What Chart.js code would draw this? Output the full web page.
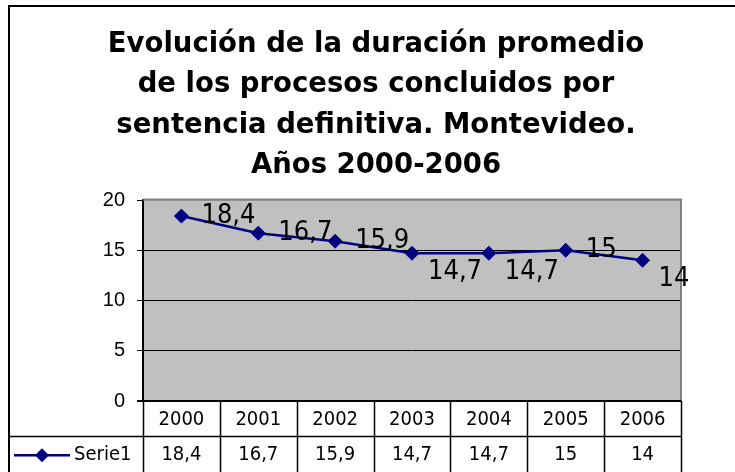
<!DOCTYPE html>
<html>
<head>
<meta charset="utf-8">
<script src="https://cdn.jsdelivr.net/npm/chart.js@4/dist/chart.umd.min.js"></script>
<style>
html,body{margin:0;padding:0;background:#fff;}
#wrap{width:735px;height:472px;position:relative;}
</style>
</head>
<body>
<div id="wrap"><canvas id="c" width="735" height="472"></canvas></div>
<script>
// ---- data ----
const TITLE_LINES = ['Evolución de la duración promedio', 'de los procesos concluidos por', 'sentencia definitiva. Montevideo.', 'Años 2000-2006'];
const YEARS = ['2000', '2001', '2002', '2003', '2004', '2005', '2006'];
const SERIE1 = [18.4, 16.7, 15.9, 14.7, 14.7, 15, 14];
const SERIES_NAME = 'Serie1';
const Y_TICKS = [0, 5, 10, 15, 20];
// label placement like the original (r = right, br = below-right)
const LABEL_ALIGN = ['r', 'r', 'r', 'br', 'br', 'r', 'br'];

const fmt = v => String(v).replace('.', ',');
const NAVY = '#000080';
const COND = "'DejaVu Sans Condensed', 'DejaVu Sans', sans-serif";

const deco = {
  id: 'deco',
  beforeDraw(chart) {
    const {ctx, chartArea: a} = chart;
    ctx.save();
    ctx.fillStyle = '#C0C0C0';
    ctx.fillRect(a.left, a.top, a.right - a.left, a.bottom - a.top);
    ctx.restore();
  },
  afterDatasetsDraw(chart) {
    const {ctx, chartArea: a} = chart;
    const meta = chart.getDatasetMeta(0);
    const x = chart.scales.x;
    ctx.save();
    // plot-area top/right border
    ctx.strokeStyle = '#808080';
    ctx.lineWidth = 2;
    ctx.beginPath();
    ctx.moveTo(a.left, a.top - 0.5);
    ctx.lineTo(a.right, a.top - 0.5);
    ctx.lineTo(a.right, a.bottom);
    ctx.stroke();
    // data labels
    ctx.fillStyle = '#000';
    ctx.font = "27px " + COND;
    ctx.textAlign = 'left';
    ctx.textBaseline = 'middle';
    meta.data.forEach((pt, i) => {
      const below = LABEL_ALIGN[i] === 'br';
      ctx.fillText(fmt(SERIE1[i]), pt.x + (below ? 16 : 20), pt.y + (below ? 19 : 0));
    });
    // title
    ctx.font = "bold 27.5px 'DejaVu Sans', sans-serif";
    ctx.textAlign = 'center';
    ctx.textBaseline = 'alphabetic';
    TITLE_LINES.forEach((t, i) => ctx.fillText(t, 376, 52 + i * 40.3));
    // data table
    const top = a.bottom, mid = a.bottom + 35.5, bot = 472;
    const colW = (a.right - a.left) / YEARS.length;
    ctx.strokeStyle = '#000';
    ctx.lineWidth = 1.5;
    ctx.beginPath();
    ctx.moveTo(9, mid); ctx.lineTo(a.right, mid);
    for (let i = 0; i <= YEARS.length; i++) {
      const xx = Math.round(a.left + i * colW) + 0.5;
      ctx.moveTo(xx, top); ctx.lineTo(xx, bot);
    }
    ctx.stroke();
    // bottom axis line
    ctx.lineWidth = 2;
    ctx.beginPath();
    ctx.moveTo(a.left - 6, a.bottom); ctx.lineTo(a.right, a.bottom);
    ctx.stroke();
    ctx.font = "20px " + COND;
    ctx.textAlign = 'center';
    ctx.textBaseline = 'middle';
    YEARS.forEach((yr, i) => {
      const cx = x.getPixelForValue(i);
      ctx.fillText(yr, cx, (top + mid) / 2 + 1);
      ctx.fillText(fmt(SERIE1[i]), cx, (mid + bot) / 2 + 1);
    });
    // legend key
    const ly = (mid + bot) / 2 + 1;
    ctx.strokeStyle = NAVY;
    ctx.lineWidth = 2.5;
    ctx.beginPath(); ctx.moveTo(14, ly); ctx.lineTo(70, ly); ctx.stroke();
    ctx.fillStyle = NAVY;
    ctx.beginPath();
    ctx.moveTo(42 - 7, ly); ctx.lineTo(42, ly - 7); ctx.lineTo(42 + 7, ly); ctx.lineTo(42, ly + 7);
    ctx.closePath(); ctx.fill();
    ctx.fillStyle = '#000';
    ctx.textAlign = 'left';
    ctx.fillText(SERIES_NAME, 74, ly);
    // outer frame
    ctx.strokeStyle = '#000';
    ctx.lineWidth = 2;
    ctx.beginPath();
    ctx.moveTo(9, 472); ctx.lineTo(9, 6); ctx.lineTo(735, 6);
    ctx.stroke();
    ctx.restore();
  }
};

new Chart(document.getElementById('c'), {
  type: 'line',
  data: {
    labels: YEARS,
    datasets: [{
      label: SERIES_NAME,
      data: SERIE1,
      borderColor: NAVY,
      backgroundColor: NAVY,
      borderWidth: 2.5,
      pointStyle: 'rectRot',
      pointRadius: 7,
      pointBorderWidth: 1,
      pointBackgroundColor: NAVY,
      pointBorderColor: NAVY,
      tension: 0,
      clip: false
    }]
  },
  options: {
    responsive: false,
    animation: false,
    events: [],
    layout: {padding: {left: 0, right: 54, top: 200, bottom: 71}},
    plugins: {legend: {display: false}, title: {display: false}, tooltip: {enabled: false}},
    scales: {
      x: {type: 'category', offset: true, display: false},
      y: {
        min: 0, max: 20,
        afterBuildTicks(s) { s.ticks = Y_TICKS.map(v => ({value: v})); },
        afterFit(s) { s.width = 143; },
        ticks: {
          font: {family: "'Liberation Sans', Arial, sans-serif", size: 20},
          color: '#000',
          padding: 12
        },
        grid: {
          color: c => (c.tick && c.tick.value === 20) ? '#a0a0a0' : '#000',
          lineWidth: 1,
          tickLength: 6,
          tickColor: '#000',
          drawTicks: true
        },
        border: {display: true, color: '#000', width: 2}
      }
    }
  },
  plugins: [deco]
});
</script>
</body>
</html>
